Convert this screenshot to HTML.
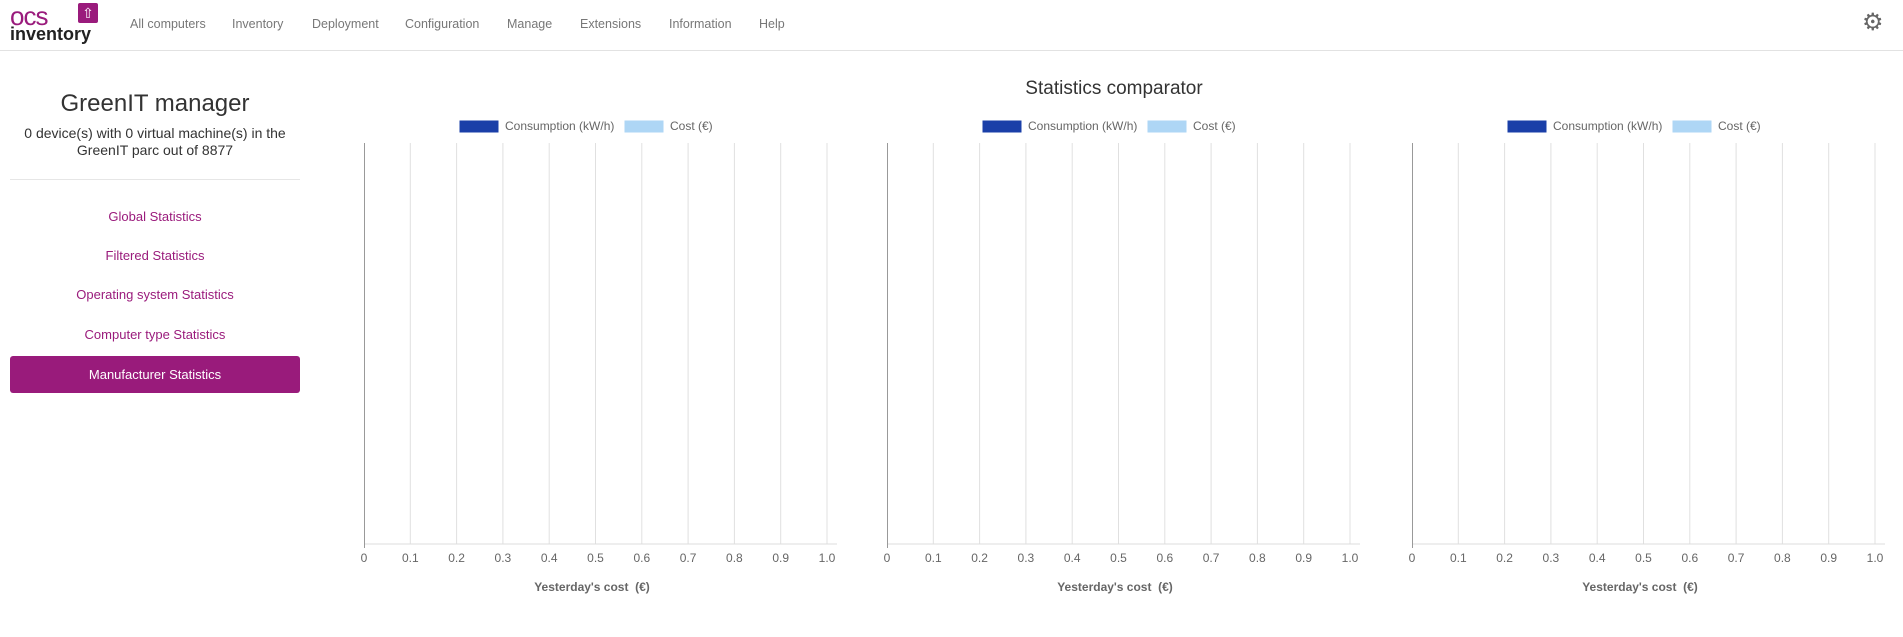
<!DOCTYPE html>
<html><head><meta charset="utf-8">
<style>
body{margin:0;width:1903px;height:637px;background:#fff;font-family:"Liberation Sans",sans-serif;position:relative;overflow:hidden}
.abs{position:absolute}
.nav{position:absolute;top:17px;font-size:12.5px;color:#777}
.hdr{position:absolute;left:0;top:0;width:1903px;height:50px;border-bottom:1px solid #e2e2e2}
.lnk{position:absolute;left:10px;width:290px;text-align:center;font-size:13px;color:#9a1b7c}
</style></head><body>
<div class="hdr">
  <div class="abs" style="left:10px;top:2px;width:92px;height:44px">
    <div class="abs" style="left:0;top:2px;font-size:26px;color:#9a1b7c;letter-spacing:-1px;line-height:24px">ocs</div>
    <div class="abs" style="left:68px;top:1px;width:20px;height:20px;background:#9a1b7c;border-radius:2px;color:#fff;font-size:14px;text-align:center;line-height:20px">⇧</div>
    <div class="abs" style="left:0;top:22px;font-size:18px;font-weight:bold;color:#222;line-height:20px">inventory</div>
  </div>
  <div class="nav" style="left:130px">All computers</div>
  <div class="nav" style="left:232px">Inventory</div>
  <div class="nav" style="left:312px">Deployment</div>
  <div class="nav" style="left:405px">Configuration</div>
  <div class="nav" style="left:507px">Manage</div>
  <div class="nav" style="left:580px">Extensions</div>
  <div class="nav" style="left:669px">Information</div>
  <div class="nav" style="left:759px">Help</div>
  <div class="abs" style="left:1862px;top:11px;font-size:24px;color:#666;line-height:24px">⚙</div>
</div>

<div class="abs" style="left:10px;width:290px;top:90px;text-align:center;font-size:24px;color:#333">GreenIT manager</div>
<div class="abs" style="left:10px;width:290px;top:125px;text-align:center;font-size:14px;line-height:17px;color:#333">0 device(s) with 0 virtual machine(s) in the GreenIT parc out of 8877</div>
<div class="abs" style="left:10px;width:290px;top:179px;border-top:1px solid #e6e6e6"></div>
<div class="lnk" style="top:209px">Global Statistics</div>
<div class="lnk" style="top:248px">Filtered Statistics</div>
<div class="lnk" style="top:287px">Operating system Statistics</div>
<div class="lnk" style="top:327px">Computer type Statistics</div>
<div class="abs" style="left:10px;top:356px;width:290px;height:37px;background:#991b7b;border-radius:3px;color:#fff;font-size:13px;text-align:center;line-height:37px">Manufacturer Statistics</div>

<div class="abs" style="left:900px;width:428px;top:78px;text-align:center;font-size:19px;color:#333">Statistics comparator</div>

<svg id="charts" class="abs" style="left:0;top:0" width="1903" height="637"></svg>
<script>
const ticks=[0,0.1,0.2,0.3,0.4,0.5,0.6,0.7,0.8,0.9,1.0];
const tickLabels=["0","0.1","0.2","0.3","0.4","0.5","0.6","0.7","0.8","0.9","1.0"];
const seriesNames=["Consumption (kW/h)","Cost (€)"];
const consumption=[];
const cost=[];
const chartOrigins=[364,887,1412];
const NS="http://www.w3.org/2000/svg";
const svg=document.getElementById('charts');
function mk(t,a,p){const e=document.createElementNS(NS,t);for(const k in a)e.setAttribute(k,a[k]);(p||svg).appendChild(e);return e;}
const W=463,chartTop=143,chartBot=544;
chartOrigins.forEach((x0,ci)=>{
  const g=mk('g',{});
  
  
  const xs=v=>x0+v*W;
  ticks.forEach((t,i)=>{
    if(i>0){const l=mk('line',{x1:xs(t),x2:xs(t),y1:chartTop,y2:chartBot,stroke:'#e0e0e0','stroke-width':1},g);
      
      }
    const tx=mk('text',{x:xs(t),y:562,'text-anchor':'middle','font-size':12,fill:'#666','font-family':'Liberation Sans, sans-serif'},g);
    tx.textContent=tickLabels[i];
    
    
  });
  const base=mk('line',{x1:x0,x2:x0+W+10,y1:chartBot,y2:chartBot,stroke:'#ddd'},g);
  
  
  const ax=mk('line',{x1:x0+0.5,x2:x0+0.5,y1:chartTop,y2:chartBot+4,stroke:'#999'},g);
  
  
  const n=Math.max(consumption.length,1),bh=(chartBot-chartTop)/n;
  consumption.forEach((v,i)=>{const r=mk('rect',{x:x0,y:chartTop+i*bh+bh*0.1,width:xs(v)-x0,height:bh*0.4,fill:'#1a3fa8'},g);
    
    });
  cost.forEach((v,i)=>{const r=mk('rect',{x:x0,y:chartTop+i*bh+bh*0.5,width:xs(v)-x0,height:bh*0.4,fill:'#aed6f5'},g);
    
    });
  const at=mk('text',{x:x0+228,y:591,'text-anchor':'middle','font-size':12,'font-weight':'bold',fill:'#666','font-family':'Liberation Sans, sans-serif'},g);
  at.textContent="Yesterday's cost  (€)";
  at.style.whiteSpace='pre';
  
  
  const lx=[x0+95,x0+260],cols=['#1a3fa8','#aed6f5'];
  seriesNames.forEach((s,i)=>{
    const lg=mk('g',{},g);
    
    
    mk('rect',{x:lx[i],y:120,width:40,height:13,fill:cols[i],stroke:'#fff'},lg);
    const t=mk('text',{x:lx[i]+46,y:130,'font-size':12,fill:'#666','font-family':'Liberation Sans, sans-serif'},lg);
    t.textContent=s;
  });
});
</script>
</body></html>
